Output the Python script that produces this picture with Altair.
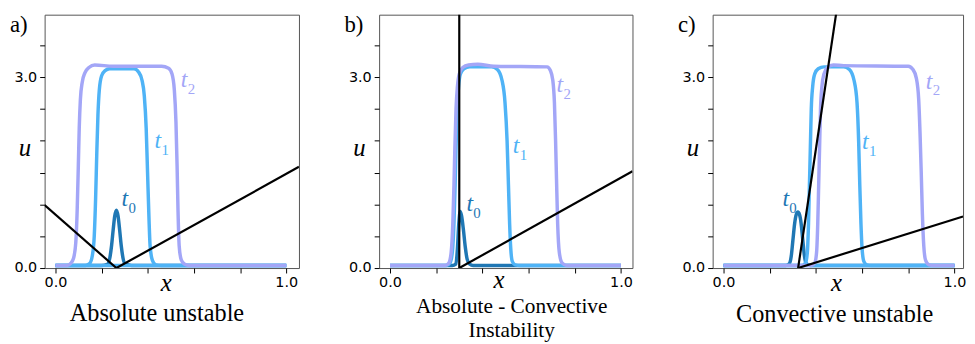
import altair as alt
import pandas as pd

# ---------------- data ----------------
# Panel a) Absolute unstable
A_T0_X = [0.0, 0.2, 0.225, 0.235, 0.243, 0.25, 0.257, 0.264, 0.271, 0.278, 0.285, 0.293, 0.303, 0.33, 1.0]
A_T0_U = [0.04, 0.04, 0.06, 0.15, 0.35, 0.6, 0.82, 0.91, 0.82, 0.6, 0.35, 0.15, 0.06, 0.04, 0.04]
A_T1_X = [0.0, 0.13, 0.148, 0.16, 0.168, 0.174, 0.179, 0.184, 0.19, 0.2, 0.215, 0.235, 0.34, 0.36, 0.375,
          0.385, 0.393, 0.399, 0.405, 0.41, 0.42, 0.435, 0.46, 1.0]
A_T1_U = [0.04, 0.04, 0.07, 0.2, 0.5, 1.1, 1.8, 2.4, 2.8, 3.02, 3.1, 3.13, 3.13, 3.08, 2.95,
          2.7, 2.2, 1.5, 0.8, 0.35, 0.12, 0.05, 0.04, 0.04]
A_T2_X = [0.0, 0.05, 0.065, 0.078, 0.088, 0.094, 0.099, 0.103, 0.108, 0.116, 0.128, 0.145, 0.17, 0.25, 0.46,
          0.49, 0.505, 0.515, 0.522, 0.527, 0.531, 0.536, 0.545, 0.56, 0.58, 1.0]
A_T2_U = [0.04, 0.04, 0.07, 0.15, 0.4, 0.9, 1.6, 2.2, 2.65, 2.92, 3.07, 3.15, 3.19, 3.17, 3.17,
          3.14, 3.05, 2.8, 2.3, 1.6, 0.9, 0.35, 0.13, 0.06, 0.04, 0.04]
A_BASE_X = [0.0, 1.0]
A_BASE_U = [0.04, 0.04]
A_RAY1_X = [-0.047, 0.264]
A_RAY1_U = [0.99, 0.0]
A_RAY2_X = [0.264, 1.055]
A_RAY2_U = [0.0, 1.59]

# Panel b) Absolute - Convective Instability
B_T0_X = [0.0, 0.27, 0.285, 0.292, 0.298, 0.304, 0.31, 0.318, 0.326, 0.334, 0.345, 0.36, 1.0]
B_T0_U = [0.04, 0.04, 0.06, 0.3, 0.7, 0.89, 0.82, 0.6, 0.33, 0.14, 0.06, 0.04, 0.04]
B_T1_X = [0.0, 0.245, 0.26, 0.27, 0.277, 0.282, 0.286, 0.291, 0.297, 0.305, 0.32, 0.345, 0.44, 0.465,
          0.485, 0.498, 0.507, 0.513, 0.518, 0.523, 0.53, 0.542, 0.565, 1.0]
B_T1_U = [0.04, 0.04, 0.08, 0.25, 0.7, 1.3, 1.9, 2.5, 2.85, 3.05, 3.13, 3.16, 3.16, 3.12,
          2.95, 2.6, 2.0, 1.3, 0.7, 0.3, 0.1, 0.05, 0.04, 0.04]
B_T2_X = [0.0, 0.24, 0.255, 0.265, 0.272, 0.277, 0.281, 0.286, 0.292, 0.3, 0.315, 0.34, 0.38, 0.45, 0.68,
          0.695, 0.705, 0.712, 0.717, 0.721, 0.726, 0.733, 0.745, 0.765, 1.0]
B_T2_U = [0.04, 0.04, 0.08, 0.25, 0.7, 1.3, 1.9, 2.5, 2.85, 3.05, 3.15, 3.19, 3.2, 3.17, 3.16,
          3.1, 2.95, 2.6, 2.0, 1.4, 0.7, 0.25, 0.08, 0.04, 0.04]
B_RAY1_X = [0.30, 0.30]
B_RAY1_U = [0.0, 4.2]
B_RAY2_X = [0.30, 1.05]
B_RAY2_U = [0.0, 1.52]

# Panel c) Convective unstable
C_T0_X = [0.0, 0.27, 0.285, 0.293, 0.3, 0.308, 0.315, 0.322, 0.329, 0.336, 0.343, 0.35, 0.358, 0.375, 1.0]
C_T0_U = [0.04, 0.04, 0.07, 0.18, 0.42, 0.7, 0.84, 0.88, 0.84, 0.7, 0.45, 0.2, 0.07, 0.04, 0.04]
C_T1_X = [0.0, 0.34, 0.355, 0.363, 0.368, 0.372, 0.376, 0.38, 0.386, 0.395, 0.41, 0.435, 0.52, 0.545,
          0.565, 0.578, 0.585, 0.59, 0.595, 0.6, 0.608, 0.62, 0.64, 1.0]
C_T1_U = [0.04, 0.04, 0.08, 0.25, 0.7, 1.3, 1.9, 2.5, 2.85, 3.05, 3.13, 3.16, 3.16, 3.12,
          2.95, 2.6, 2.0, 1.3, 0.7, 0.3, 0.1, 0.05, 0.04, 0.04]
C_T2_X = [0.0, 0.38, 0.395, 0.403, 0.408, 0.412, 0.416, 0.42, 0.426, 0.435, 0.45, 0.475, 0.52, 0.8,
          0.82, 0.835, 0.845, 0.851, 0.856, 0.861, 0.867, 0.875, 0.89, 0.91, 1.0]
C_T2_U = [0.04, 0.04, 0.08, 0.25, 0.7, 1.3, 1.9, 2.5, 2.85, 3.05, 3.15, 3.19, 3.18, 3.17,
          3.12, 2.98, 2.65, 2.1, 1.5, 0.85, 0.35, 0.12, 0.05, 0.04, 0.04]
C_BASE_X = [0.0, 1.0]
C_BASE_U = [0.04, 0.04]
C_RAY1_X = [0.323, 0.496]
C_RAY1_U = [0.0, 4.2]
C_RAY2_X = [0.323, 1.037]
C_RAY2_U = [0.0, 0.81]

# curve-label anchors (x, u) for t0, t1, t2
A_LABEL_X = [0.286, 0.429, 0.543]
A_LABEL_U = [0.977, 1.885, 2.846]
B_LABEL_X = [0.331, 0.532, 0.721]
B_LABEL_U = [0.899, 1.807, 2.768]
C_LABEL_X = [0.255, 0.60, 0.876]
C_LABEL_U = [0.976, 1.864, 2.82]
LABEL_SUB = ["0", "1", "2"]

X_TICKS = [0.0, 0.2, 0.4, 0.6, 0.8, 1.0]
Y_TICKS = [0.0, 0.5, 1.0, 1.5, 2.0, 2.5, 3.0, 3.5]

# ---------------- styling ----------------
COL_T0 = "#1f77b4"
COL_T1 = "#4fb3f6"
COL_T2 = "#a3a6f7"
COLS = [COL_T0, COL_T1, COL_T2]
SERIF = "Liberation Serif"
SANS = "DejaVu Sans"
H = 256
Y_DOMAIN = [0, 3.98]


def xenc(dom):
    return alt.X(
        "x:Q",
        scale=alt.Scale(domain=dom, nice=False, zero=False),
        axis=alt.Axis(
            values=X_TICKS,
            labelExpr="(datum.value == 0 || datum.value == 1) ? format(datum.value, '.1f') : ''",
            title=None, grid=False, domain=False, tickSize=5, tickColor="#000",
            labelFont=SANS, labelFontSize=14.5, labelColor="#000", labelPadding=3,
            labelFlush=False, labelOverlap=False,
        ),
    )


def yenc():
    return alt.Y(
        "u:Q",
        scale=alt.Scale(domain=Y_DOMAIN, nice=False, zero=False),
        axis=alt.Axis(
            values=Y_TICKS,
            labelExpr="(datum.value == 0 || datum.value == 3) ? format(datum.value, '.1f') : ''",
            title=None, grid=False, domain=False, tickSize=5, tickColor="#000",
            labelFont=SANS, labelFontSize=14.5, labelColor="#000", labelPadding=3,
            labelOverlap=False,
        ),
    )


def line(xs, us, color, width, dom, interp="monotone"):
    df = pd.DataFrame({"x": xs, "u": us})
    return alt.Chart(df).mark_line(
        color=color, strokeWidth=width, interpolate=interp, clip=True
    ).encode(x=xenc(dom), y=yenc())


DUMMY = pd.DataFrame({"k": [0]})


def ptext(text, px, py, size, style="normal", align="center", font=SERIF, lh=24):
    return alt.Chart(DUMMY).mark_text(
        text=text, font=font, fontSize=size, fontStyle=style, align=align,
        baseline="alphabetic", color="#000", lineHeight=lh,
    ).encode(x=alt.value(px), y=alt.value(py))


def labels(lx, lu, dom):
    layers = []
    for i in range(3):
        df = pd.DataFrame({"x": [lx[i]], "u": [lu[i]]})
        layers.append(alt.Chart(df).mark_text(
            text="t", font=SERIF, fontStyle="italic", fontSize=24, align="left",
            baseline="alphabetic", color=COLS[i]).encode(x=xenc(dom), y=yenc()))
        layers.append(alt.Chart(df).mark_text(
            text=LABEL_SUB[i], font=SERIF, fontSize=15, align="left",
            baseline="alphabetic", color=COLS[i], dx=7, dy=7).encode(x=xenc(dom), y=yenc()))
    return layers


def panel(letter, subtitle, dom, width, t0, t1, t2, base, rays, lab,
          x_center, x_base, sub_center, sub_y, sub_size):
    layers = [line(t0[0], t0[1], COL_T0, 3.5, dom)]
    if base is not None:
        layers.append(line(base[0], base[1], COL_T1, 3.5, dom, "linear"))
    layers.append(line(t1[0], t1[1], COL_T1, 3.5, dom))
    layers.append(line(t2[0], t2[1], COL_T2, 3.5, dom))
    for r in rays:
        layers.append(line(r[0], r[1], "#000", 2.2, dom, "linear"))
    layers += labels(lab[0], lab[1], dom)
    layers.append(ptext(letter, -35, 18, 23, align="left"))
    layers.append(ptext("u", -20, 143, 25, style="italic"))
    layers.append(ptext("x", x_center, x_base, 25, style="italic"))
    layers.append(ptext(subtitle, sub_center, sub_y, sub_size))
    return alt.layer(*layers).properties(width=width, height=H)


pa = panel("a)", "Absolute unstable", [-0.047, 1.055], 257,
           (A_T0_X, A_T0_U), (A_T1_X, A_T1_U), (A_T2_X, A_T2_U), (A_BASE_X, A_BASE_U),
           [(A_RAY1_X, A_RAY1_U), (A_RAY2_X, A_RAY2_U)], (A_LABEL_X, A_LABEL_U),
           123, 279, 113.5, 310, 24.5)
pb = panel("b)", ["Absolute - Convective", "Instability"], [-0.047, 1.05], 256,
           (B_T0_X, B_T0_U), (B_T1_X, B_T1_U), (B_T2_X, B_T2_U), None,
           [(B_RAY1_X, B_RAY1_U), (B_RAY2_X, B_RAY2_U)], (B_LABEL_X, B_LABEL_U),
           121, 276, 134, 301.5, 21.5)
pc = panel("c)", "Convective unstable", [-0.047, 1.037], 253,
           (C_T0_X, C_T0_U), (C_T1_X, C_T1_U), (C_T2_X, C_T2_U), (C_BASE_X, C_BASE_U),
           [(C_RAY1_X, C_RAY1_U), (C_RAY2_X, C_RAY2_U)], (C_LABEL_X, C_LABEL_U),
           125, 279, 123.3, 311, 24.5)

chart = alt.hconcat(pa, pb, pc, spacing=81, bounds="flush").properties(
    padding={"left": 1, "top": 4, "right": 0, "bottom": 0},
    background="white",
).configure_view(stroke="#555555", strokeWidth=1)

chart.save("out.html", embed_options={"renderer": "svg", "actions": False})
